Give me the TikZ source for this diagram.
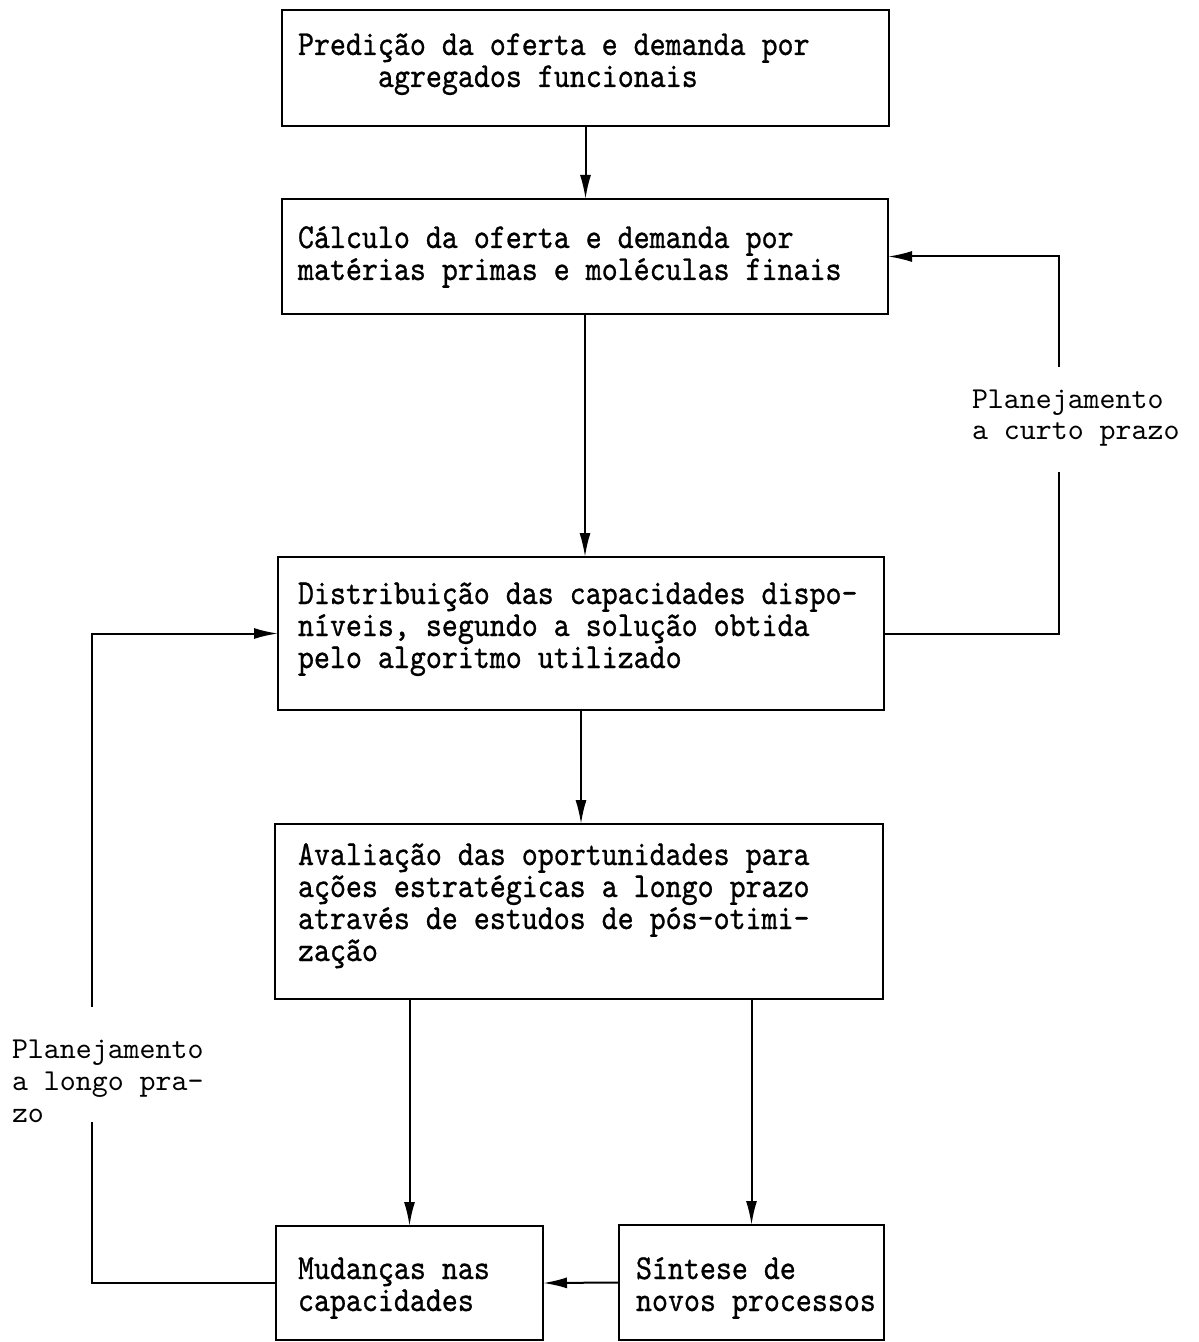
\documentclass[tikz,border=0pt]{standalone}
\usepackage{fontspec}
\usetikzlibrary{arrows.meta}
% typewriter faces: a condensed, slightly heavier one for the boxes,
% a plain one for the loop labels
\newfontfamily\boxfont{lmmono10-regular.otf}[FakeStretch=0.87,FakeBold=0.8]
\newfontfamily\notefont{lmmono10-regular.otf}

\begin{document}
\begin{tikzpicture}[x=0.5pt,y=-0.5pt,
  box/.style={draw, line width=1.1pt, inner sep=0pt, outer sep=0pt},
  txt/.style={anchor=base west, inner sep=0pt, outer sep=0pt,
              font=\boxfont\fontsize{17.5}{16}\selectfont},
  note/.style={anchor=base west, inner sep=0pt, outer sep=0pt,
               font=\notefont\fontsize{15.2}{16}\selectfont},
  link/.style={line width=1pt},
  arr/.style={line width=1pt, -{Latex[length=12pt,width=5.5pt]}}]

\useasboundingbox (0,0) rectangle (1198,1342);

% boxes
\node[box, minimum width=303.5pt, minimum height=58pt]   (b1) at (585.5,68)   {};
\node[box, minimum width=303pt,   minimum height=57.5pt] (b2) at (585,256.5)  {};
\node[box, minimum width=303pt,   minimum height=76.5pt] (b3) at (581,633.5)  {};
\node[box, minimum width=304pt,   minimum height=87.5pt] (b4) at (579,911.5)  {};
\node[box, minimum width=133.5pt, minimum height=57pt]   (b5) at (409.5,1283) {};
\node[box, minimum width=132.5pt, minimum height=57.5pt] (b6) at (751.5,1282.5) {};

% box texts
\node[txt] (t1) at (298,55) {\parbox[t]{300pt}{\raggedright
  Predição da oferta e demanda por\\
  \hspace*{40pt}agregados funcionais}};
\node[txt] (t2) at (298,248) {\parbox[t]{300pt}{\raggedright
  Cálculo da oferta e demanda por\\
  matérias primas e moléculas finais}};
\node[txt] (t3) at (298,604) {\parbox[t]{300pt}{\raggedright
  Distribuição das capacidades dispo-\\
  níveis, segundo a solução obtida\\
  pelo algoritmo utilizado}};
\node[txt] (t4) at (298,865) {\parbox[t]{300pt}{\raggedright
  Avaliação das oportunidades para\\
  ações estratégicas a longo prazo\\
  através de estudos de pós-otimi-\\
  zação}};
\node[txt] (t5) at (298,1279) {\parbox[t]{200pt}{\raggedright
  Mudanças nas\\
  capacidades}};
\node[txt] (t6) at (636,1279) {\parbox[t]{200pt}{\raggedright
  Síntese de\\
  novos processos}};

% loop labels
\node[note] (n1) at (972,408) {\parbox[t]{120pt}{\raggedright
  Planejamento\\
  a curto prazo}};
\node[note] (n2) at (12,1058) {\parbox[t]{120pt}{\raggedright
  Planejamento\\
  a longo pra-\\
  zo}};

% main flow
\draw[arr] (b1.south) -- (b1.south |- b2.north);
\draw[arr] (b2.south) -- (b2.south |- b3.north);
\draw[arr] (b3.south) -- (b3.south |- b4.north);
\draw[arr] (b5.north |- b4.south) -- (b5.north);
\draw[arr] (b6.north |- b4.south) -- (b6.north);
\draw[arr] (b6.west) -- (b5.east);

% short-term loop (right), broken around its label
\coordinate (r1) at (1059,472);
\coordinate (r2) at (1059,367);
\draw[link] (b3.east) -| (r1);
\draw[arr] (r2) |- (b2.east);

% long-term loop (left), broken around its label
\coordinate (l1) at (92,1122);
\coordinate (l2) at (92,1007);
\draw[link] (b5.west) -| (l1);
\draw[arr] (l2) |- (b3.west);
\end{tikzpicture}
\end{document}
